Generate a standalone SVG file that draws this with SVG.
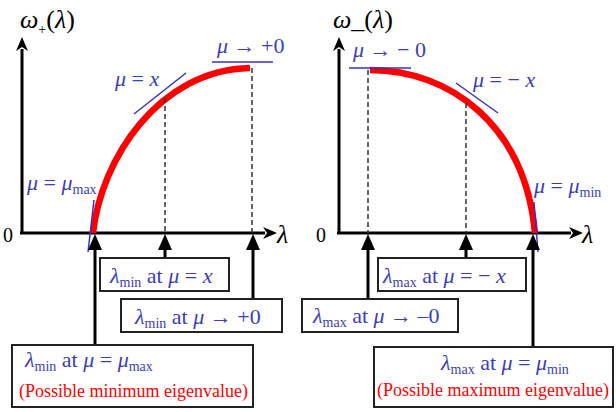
<svg xmlns="http://www.w3.org/2000/svg" width="616" height="412" viewBox="0 0 616 412">
<defs>
<marker id="up" markerUnits="userSpaceOnUse" viewBox="-5 -8 18 16" markerWidth="18" markerHeight="16" refX="0" refY="0" orient="auto">
<path d="M-4,-7 L12,0 L-4,7 Z" fill="#000"/>
</marker>
<marker id="ax" markerUnits="userSpaceOnUse" viewBox="-3 -7 16 14" markerWidth="16" markerHeight="14" refX="0" refY="0" orient="auto">
<path d="M-2,-6 L12,0 L-2,6 L2,0 Z" fill="#000"/>
</marker>
<style>
.axis{stroke:#000;stroke-width:3;fill:none}
.curve{stroke:#ff0000;stroke-width:6.5;fill:none}
.dash{stroke:#333;stroke-width:1.5;stroke-dasharray:5 3;fill:none}
.tan{stroke:#3333cc;stroke-width:1.5;fill:none}
.conn{stroke:#000;stroke-width:3;fill:none;marker-end:url(#up)}
.box{fill:#fff;stroke:#222;stroke-width:2}
text{font-family:"Liberation Serif","Times New Roman",serif}
.lbl{fill:#3c3cbe;font-size:22px}
.red{fill:#ff0000;font-size:18px}
.axl{fill:#000;font-size:26px}
.zero{fill:#000;font-size:20px}
.i{font-style:italic}
.sub{font-size:14px}
</style>
</defs>

<g id="axes-left">
<line class="axis" x1="22" y1="234" x2="22" y2="49" marker-end="url(#ax)"/>
<line class="axis" x1="20" y1="233" x2="265" y2="233" marker-end="url(#ax)"/>
<text class="axl" x="20" y="28"><tspan class="i">ω</tspan><tspan class="sub" font-size="16" dy="6">+</tspan><tspan dy="-6">(</tspan><tspan class="i">λ</tspan>)</text>
<text class="axl i" x="277" y="243">λ</text>
<text class="zero" x="3" y="242">0</text>
</g>
<g id="curve-left">
<path class="curve" d="M93,233 C101,160 158,70 250,68"/>
<line class="tan" x1="134" y1="114" x2="186" y2="73"/>
<line class="tan" x1="212" y1="62" x2="273" y2="62"/>
<line class="tan" x1="94" y1="200" x2="88" y2="252"/>
<line class="dash" x1="165" y1="98" x2="165" y2="233"/>
<line class="dash" x1="252" y1="68" x2="252" y2="233"/>
<text class="lbl" x="115" y="86"><tspan class="i">μ</tspan> = <tspan class="i">x</tspan></text>
<text class="lbl" x="217" y="53"><tspan class="i">μ</tspan> → +0</text>
<text class="lbl" x="27" y="190"><tspan class="i">μ</tspan> = <tspan class="i">μ</tspan><tspan class="sub" dy="4">max</tspan></text>
</g>

<g id="axes-right">
<line class="axis" x1="339" y1="234" x2="339" y2="49" marker-end="url(#ax)"/>
<line class="axis" x1="337" y1="233" x2="571" y2="233" marker-end="url(#ax)"/>
<text class="axl" x="333" y="28"><tspan class="i">ω</tspan>_(<tspan class="i">λ</tspan>)</text>
<text class="axl i" x="582" y="243">λ</text>
<text class="zero" x="316" y="242">0</text>
</g>
<g id="curve-right">
<path class="curve" d="M370,70 C450,70 525,125 535,233"/>
<line class="tan" x1="456" y1="83" x2="498" y2="113"/>
<line class="tan" x1="349" y1="68" x2="411" y2="68"/>
<line class="tan" x1="534" y1="202" x2="538" y2="252"/>
<line class="dash" x1="368" y1="70" x2="368" y2="233"/>
<line class="dash" x1="466" y1="103" x2="466" y2="233"/>
<text class="lbl" x="353" y="57"><tspan class="i">μ</tspan> → − 0</text>
<text class="lbl" x="473" y="87"><tspan class="i">μ</tspan> = − <tspan class="i">x</tspan></text>
<text class="lbl" x="534" y="193"><tspan class="i">μ</tspan> = <tspan class="i">μ</tspan><tspan class="sub" dy="4">min</tspan></text>
</g>

<g id="connectors">
<line class="conn" x1="95" y1="345" x2="95" y2="246"/>
<line class="conn" x1="165" y1="258" x2="165" y2="246"/>
<line class="conn" x1="253" y1="299" x2="253" y2="246"/>
<line class="conn" x1="368" y1="299" x2="368" y2="246"/>
<line class="conn" x1="466" y1="258" x2="466" y2="246"/>
<line class="conn" x1="533" y1="347" x2="533" y2="246"/>
</g>

<g id="box-min-x">
<rect class="box" x="100" y="258" width="129" height="33"/>
<text class="lbl" x="110" y="283"><tspan class="i">λ</tspan><tspan class="sub" dy="4">min</tspan><tspan dy="-4"> at </tspan><tspan class="i">μ</tspan> = <tspan class="i">x</tspan></text>
</g>
<g id="box-min-0">
<rect class="box" x="121" y="299" width="161" height="33"/>
<text class="lbl" x="135" y="324"><tspan class="i">λ</tspan><tspan class="sub" dy="4">min</tspan><tspan dy="-4"> at </tspan><tspan class="i">μ</tspan> → +0</text>
</g>
<g id="box-min-max">
<rect class="box" x="12" y="345" width="241" height="62"/>
<text class="lbl" x="25" y="367"><tspan class="i">λ</tspan><tspan class="sub" dy="4">min</tspan><tspan dy="-4"> at </tspan><tspan class="i">μ</tspan> = <tspan class="i">μ</tspan><tspan class="sub" dy="4">max</tspan></text>
<text class="red" x="19" y="397">(Possible minimum eigenvalue)</text>
</g>
<g id="box-max-x">
<rect class="box" x="378" y="258" width="148" height="33"/>
<text class="lbl" x="383" y="283"><tspan class="i">λ</tspan><tspan class="sub" dy="4">max</tspan><tspan dy="-4"> at </tspan><tspan class="i">μ</tspan> = − <tspan class="i">x</tspan></text>
</g>
<g id="box-max-0">
<rect class="box" x="302" y="299" width="156" height="33"/>
<text class="lbl" x="313" y="323"><tspan class="i">λ</tspan><tspan class="sub" dy="4">max</tspan><tspan dy="-4"> at </tspan><tspan class="i">μ</tspan> → –0</text>
</g>
<g id="box-max-min">
<rect class="box" x="374" y="347" width="239" height="60"/>
<text class="lbl" x="441" y="370"><tspan class="i">λ</tspan><tspan class="sub" dy="4">max</tspan><tspan dy="-4"> at </tspan><tspan class="i">μ</tspan> = <tspan class="i">μ</tspan><tspan class="sub" dy="4">min</tspan></text>
<text class="red" x="377" y="396">(Possible maximum eigenvalue)</text>
</g>
</svg>
